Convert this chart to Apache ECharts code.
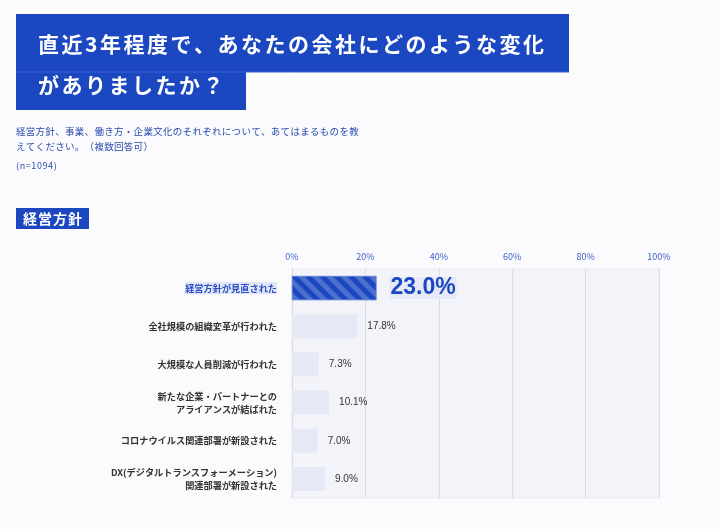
<!DOCTYPE html>
<html><head><meta charset="utf-8">
<script src="https://cdn.jsdelivr.net/npm/echarts@6/dist/echarts.min.js"></script>
<style>html,body{margin:0;padding:0;background:#fbfbfd;}#c{width:720px;height:529px;}</style>
</head><body><div id="c"></div>
<script>
const categories = [
  "経営方針が見直された",
  "全社規模の組織変革が行われた",
  "大規模な人員削減が行われた",
  "新たな企業・パートナーとの\nアライアンスが結ばれた",
  "コロナウイルス関連部署が新設された",
  "DX(デジタルトランスフォーメーション)\n関連部署が新設された"
];
const values = [23.0, 17.8, 7.3, 10.1, 7.0, 9.0];
const tickLabels = ["0%", "20%", "40%", "60%", "80%", "100%"];
const titleLine1 = "直近3年程度で、あなたの会社にどのような変化";
const titleLine2 = "がありましたか？";
const subtitle1 = "経営方針、事業、働き方・企業文化のそれぞれについて、あてはまるものを教";
const subtitle2 = "えてください。（複数回答可）";
const sampleNote = "(n=1094)";
const sectionLabel = "経営方針";

const FONT = '"Noto Sans CJK JP", "Noto Sans", sans-serif';
const NUMFONT = '"Liberation Sans", Arial, sans-serif';
const BLUE = '#1b48c0';
const highlightIdx = 0;

// letter-spaced text helper (each character is a text element, advance measured)
const mctx = document.createElement('canvas').getContext('2d');
function spacedText(text, x, y, font, fill, spacing) {
  mctx.font = font;
  const children = [];
  let cx = 0;
  for (const ch of text) {
    children.push({ type: 'text', x: cx, y: 0, style: { text: ch, fill: fill, font: font, textVerticalAlign: 'middle' } });
    cx += mctx.measureText(ch).width + spacing;
  }
  return { type: 'group', x: x, y: y, children: children };
}

const chart = echarts.init(document.getElementById('c'));
chart.setOption({
  backgroundColor: '#fbfbfd',
  textStyle: { fontFamily: FONT },
  grid: { left: 292, right: 61, top: 269, bottom: 31, show: true, backgroundColor: '#f3f4f9', borderColor: '#e8e9f0', borderWidth: 1 },
  xAxis: {
    type: 'value', position: 'top', min: 0, max: 100, interval: 20,
    axisLine: { show: false }, axisTick: { show: false },
    axisLabel: { color: '#3e5fc8', fontSize: 9, margin: 8, fontFamily: FONT,
      formatter: (v) => tickLabels[Math.round(v / 20)] },
    splitLine: { lineStyle: { color: '#dcdde6', width: 1 } }
  },
  yAxis: {
    type: 'category', inverse: true, data: categories,
    axisLine: { show: true, lineStyle: { color: '#d8d9e2' } }, axisTick: { show: false },
    axisLabel: {
      margin: 15, fontSize: 9.2, fontWeight: 'bold', color: '#333', align: 'right', lineHeight: 13,
      formatter: (v, i) => i === highlightIdx ? '{h|' + v + '}' : v,
      rich: { h: { color: '#2a4fc4', backgroundColor: '#e2e7f8', fontSize: 9.2, fontWeight: 'bold', padding: [2, 0, 1, 0] } }
    }
  },
  series: [{
    type: 'bar', barWidth: 24,
    data: values.map((v, i) => i === highlightIdx ? {
      value: v,
      itemStyle: { color: BLUE, borderColor: '#5a7ad6', borderWidth: 0.5,
        decal: { symbol: 'rect', dashArrayX: [1, 0], dashArrayY: [5, 5], rotation: Math.PI / 4, color: 'rgba(255,255,255,0.22)' } },
      label: { fontSize: 23, fontWeight: 'bold', color: BLUE, distance: 13, backgroundColor: '#e6e9f6', padding: [1, 1, -2, 1], fontFamily: NUMFONT }
    } : { value: v }),
    itemStyle: { color: '#e6e8f5' },
    label: { show: true, position: 'right', distance: 10, fontSize: 10, color: '#333', fontFamily: NUMFONT, formatter: (p) => p.value.toFixed(1) + '%' },
    silent: true
  }],
  graphic: [
    { type: 'rect', shape: { x: 16, y: 14, width: 553, height: 58 }, style: { fill: BLUE } },
    { type: 'rect', shape: { x: 16, y: 72, width: 230, height: 38 }, style: { fill: BLUE } },
    { type: 'line', shape: { x1: 16, y1: 72, x2: 569, y2: 72 }, style: { stroke: '#3b63d4', lineWidth: 1 } },
    spacedText(titleLine1, 38, 44, 'bold 21px ' + FONT, '#fff', 2.5),
    spacedText(titleLine2, 38, 85, 'bold 21px ' + FONT, '#fff', 2.5),
    spacedText(subtitle1, 16, 131, '9.5px ' + FONT, '#2a4cae', 0.3),
    spacedText(subtitle2, 16, 146, '9.5px ' + FONT, '#2a4cae', 0.3),
    spacedText(sampleNote, 16, 166, '9px ' + FONT, '#2a4cae', 0.6),
    { type: 'rect', shape: { x: 16, y: 208, width: 73, height: 21 }, style: { fill: BLUE } },
    spacedText(sectionLabel, 23, 219, 'bold 14px ' + FONT, '#fff', 1)
  ]
});
</script></body></html>
